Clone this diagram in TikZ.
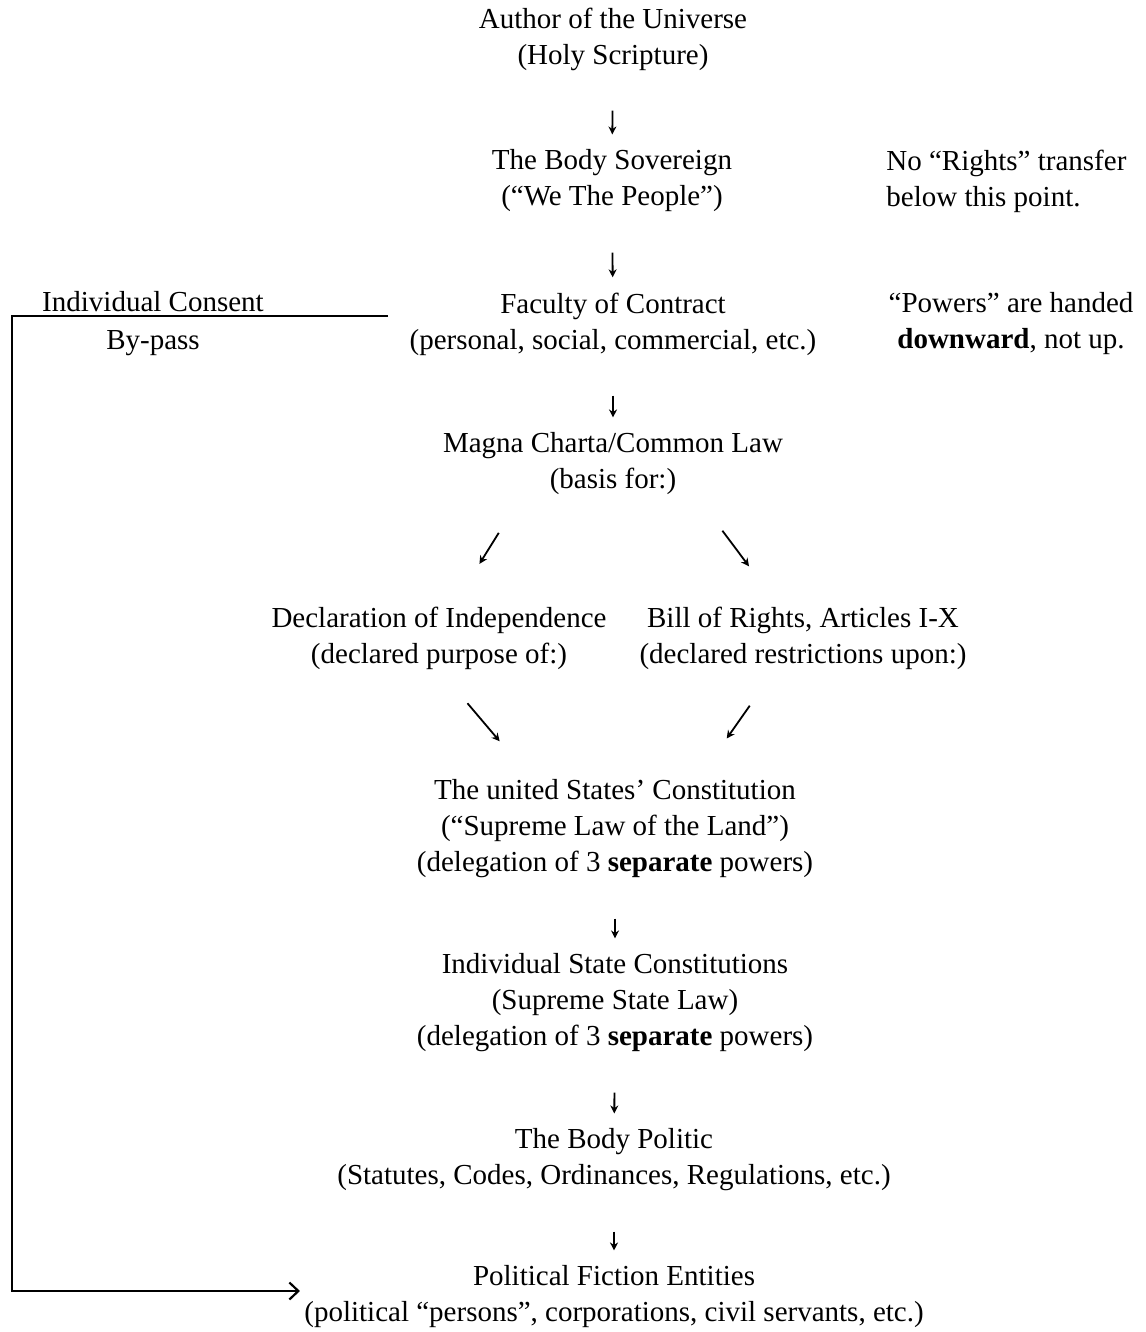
\documentclass[tikz,border=0pt]{standalone}
\usepackage{fontspec}
\setmainfont{Liberation Serif}
\usetikzlibrary{arrows.meta,positioning,calc}

\begin{document}
\begin{tikzpicture}[x=0.5pt, y=-0.5pt,
  every node/.style={align=center, inner sep=0pt, font=\fontsize{14.5pt}{18pt}\selectfont},
  note/.style={align=left, anchor=west},
  flow/.style={-{Stealth[length=4pt,width=4pt]}, line width=0.9pt, shorten <=20pt, shorten >=7.5pt},
  split/.style={flow, shorten <=22pt, shorten >=25pt},
  bypass/.style={-{Straight Barb[length=4.5pt,width=8.5pt]}, line width=1.1pt}]
  \useasboundingbox (0,0) rectangle (1145,1332);
  \node (author) at (613,39) {Author of the Universe\\(Holy Scripture)};
  \node (sovereign) at (612,181) {The Body Sovereign\\(“We The People”)};
  \node[note] (norights) at (886,181) {No “Rights” transfer\\below this point.};
  \node (faculty) at (613,324) {Faculty of Contract\\(personal, social, commercial, etc.)};
  \node (powers) at (1011,324) {“Powers” are handed\\\textbf{downward}, not up.};
  \node (consent) at (153,302) {Individual Consent};
  \node (bypasslabel) at (153,343) {By-pass};
  \node (magna) at (613,464) {Magna Charta/Common Law\\(basis for:)};
  \node (decl) at (439,638) {Declaration of Independence\\(declared purpose of:)};
  \node (bill) at (803,638) {Bill of Rights, Articles I-X\\(declared restrictions upon:)};
  \node (const) at (615,829) {The united States’ Constitution\\(“Supreme Law of the Land”)\\(delegation of 3 \textbf{separate} powers)};
  \node (state) at (615,1003) {Individual State Constitutions\\(Supreme State Law)\\(delegation of 3 \textbf{separate} powers)};
  \node (politic) at (614,1160) {The Body Politic\\(Statutes, Codes, Ordinances, Regulations, etc.)};
  \node (entities) at (614,1297) {Political Fiction Entities\\(political “persons”, corporations, civil servants, etc.)};

  \draw[flow] (author) -- (sovereign);
  \draw[flow] (sovereign) -- (faculty);
  \draw[flow] (faculty) -- (magna);
  \draw[split] ([xshift=-45.5pt]magna.south) -- ([xshift=7pt]decl.north);
  \draw[split] ([xshift=41.5pt]magna.south) -- ([xshift=-12pt]bill.north);
  \draw[split] ([xshift=0pt]decl.south) -- ([xshift=-41.5pt]const.north);
  \draw[split] ([xshift=-14pt]bill.south) -- ([xshift=41.5pt]const.north);
  \draw[flow] (const) -- (state);
  \draw[flow] (state) -- (politic);
  \draw[flow] (politic) -- (entities);

  \coordinate (bypass start) at (388,316);
  \coordinate (bypass corner) at (12,316);
  \draw[bypass] (bypass start) -- (bypass corner) |- ([xshift=-2pt,yshift=3pt]entities.west);
\end{tikzpicture}
\end{document}
